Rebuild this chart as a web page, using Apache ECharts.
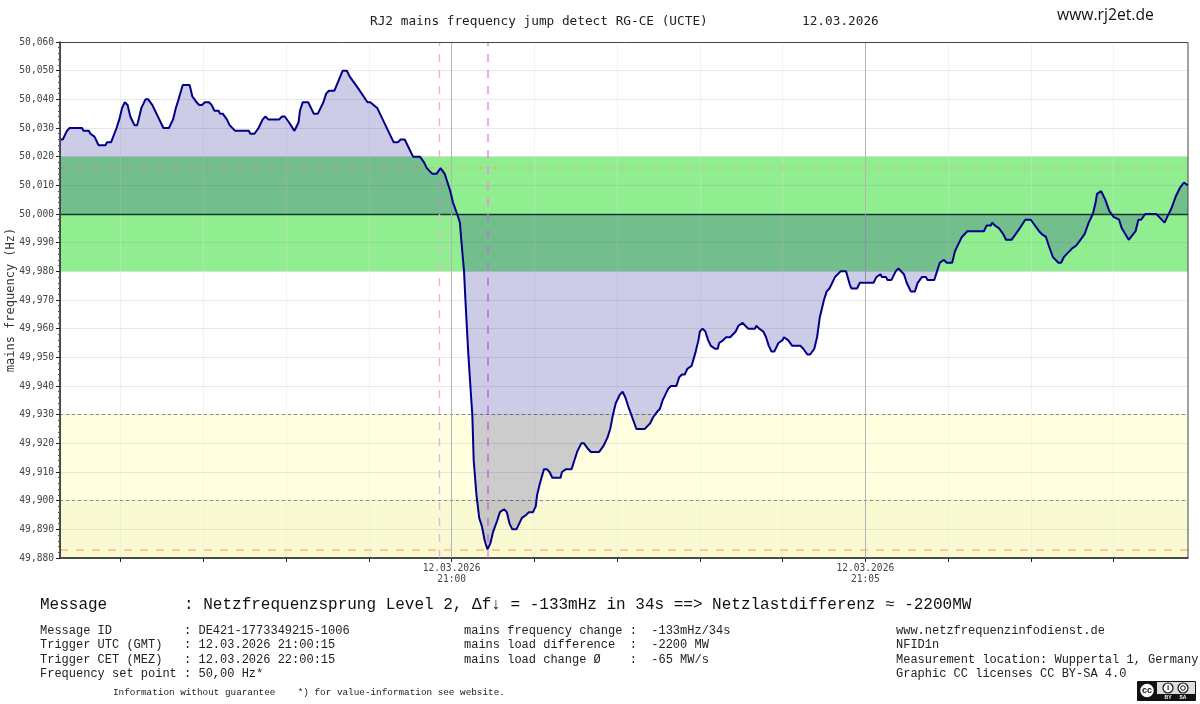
<!DOCTYPE html>
<html>
<head>
<meta charset="utf-8">
<title>RJ2 mains frequency jump detect</title>
<style>
  html, body { margin: 0; padding: 0; background: #fff; }
  #chart { width: 1200px; height: 704px; }
</style>
<script src="https://cdn.jsdelivr.net/npm/echarts@6/dist/echarts.min.js"></script>
</head>
<body>
<div id="chart"></div>
<script>
// seconds relative to 21:00:00 UTC
var seconds = [
  -284,-282,-279,-277,-268,-267,-263,-262,-259,-256,-251,-250,-247,-243,-241,-239,-237,-235,-233,-231,
  -230,-228,-227,-225,-222,-220,-217,-209,-205,-202,-200,-198,-195,-190,-188,-185,-183,-181,-179,-176,
  -174,-172,-169,-168,-166,-163,-161,-157,-147,-146,-143,-140,-137,-135,-133,-125,-123,-121,-118,-114,
  -113,-111,-110,-108,-104,-100,-97,-93,-91,-89,-85,-79,-76,-74,-71,-68,-61,-59,-54,-44,
  -42,-39,-37,-34,-28,-23,-20,-18,-14,-11,-8,-5,-1,1,4,6,7,9,10,12,
  14,15,16,18,20,22,24,26,28,30,33,35,38,40,42,44,47,51,54,56,
  59,61,62,64,67,69,71,73,79,80,83,87,89,91,94,96,99,101,107,110,
  113,115,117,119,122,124,126,128,131,134,140,142,144,146,149,151,153,157,159,163,
  165,167,169,171,174,177,179,180,182,184,186,188,191,193,194,197,199,202,206,208,
  211,212,215,220,221,223,226,228,230,232,234,237,240,241,244,247,253,255,258,260,
  263,265,267,270,272,274,278,282,286,289,290,294,296,306,308,311,312,315,316,319,
  322,324,328,330,333,336,338,341,344,345,350,352,354,357,359,363,365,370,374,386,
  388,391,392,394,397,400,402,406,409,412,416,420,423,426,428,431,433,436,438,440,
  442,444,446,450,453,454,456,459,462,465,467,468,471,474,477,480,484,486,491,492,
  496,498,500,503,511,513,517,519,522,525,528,531,532,534
];
// deviation from 50,000 Hz in mHz
var deviation = [
  26,26,29,30,30,29,29,28,27,24,24,25,25,30,33,37,39,38,34,32,
  31,31,33,37,40,40,38,30,30,33,37,40,45,45,41,39,38,38,39,39,
  38,36,36,35,35,33,31,29,29,28,28,30,33,34,33,33,34,34,32,29,
  30,32,36,39,39,35,35,39,42,43,43,50,50,48,46,44,39,39,37,27,
  25,25,26,26,20,20,18,16,14,14,16,14,8,4,0,-3,-9,-20,-30,-48,
  -63,-70,-86,-98,-106,-109,-114,-117,-115,-111,-107,-104,-103,-104,-108,-110,-110,-106,-105,-104,
  -104,-102,-98,-94,-89,-89,-90,-92,-92,-90,-89,-89,-86,-83,-80,-80,-82,-83,-83,-81,
  -78,-75,-70,-66,-63,-62,-64,-67,-71,-75,-75,-74,-73,-71,-69,-68,-65,-61,-60,-60,
  -57,-56,-56,-54,-53,-48,-44,-41,-40,-41,-44,-46,-47,-47,-45,-44,-43,-43,-41,-39,
  -38,-38,-40,-40,-39,-40,-41,-43,-46,-48,-48,-45,-44,-43,-44,-46,-46,-47,-49,-49,
  -47,-43,-36,-30,-27,-26,-22,-20,-20,-25,-26,-26,-24,-24,-22,-21,-22,-22,-23,-23,
  -20,-19,-21,-24,-27,-27,-24,-22,-22,-23,-23,-20,-17,-16,-17,-17,-13,-8,-6,-6,
  -4,-4,-3,-4,-5,-7,-9,-9,-7,-5,-2,-2,-4,-6,-7,-8,-11,-15,-16,-17,
  -17,-15,-14,-12,-11,-11,-9,-7,-3,0,4,7,8,5,1,-1,-2,-5,-9,-9,
  -6,-2,-2,0,0,-1,-3,-1,2,6,9,11,11,10
];
var setPoint = 50.0;
var xMinuteTicks = [-240,-180,-120,-60,0,60,120,180,240,300,360,420,480];
var xLabelTicks = [0, 300];
var xLabels = { 0: '12.03.2026\n21:00', 300: '12.03.2026\n21:05' };
var xSolidLines = [0, 300];
var xPinkStart = -9;
var xPinkTrigger = 26;
var greenBand = [49.98, 50.02];
var yellowBand = [49.88, 49.93];
var yellowLowBand = [49.88, 49.90];
var dottedLevels = [49.93, 49.90];
var upperDashed = 50.016;
var lowerDashed = 49.883;

var messageLines = [
  ['Message ID          : DE421-1773349215-1006', 631],
  ['Trigger UTC (GMT)   : 12.03.2026 21:00:15', 645],
  ['Trigger CET (MEZ)   : 12.03.2026 22:00:15', 660],
  ['Frequency set point : 50,00 Hz*', 674]
];
var changeLines = [
  ['mains frequency change :  -133mHz/34s', 631],
  ['mains load difference  :  -2200 MW', 645],
  ['mains load change \u00D8    :  -65 MW/s', 660]
];
var sourceLines = [
  ['www.netzfrequenzinfodienst.de', 631],
  ['NFID1n', 645],
  ['Measurement location: Wuppertal 1, Germany', 660],
  ['Graphic CC licenses CC BY-SA 4.0', 674]
];

var curve = seconds.map(function (s, i) {
  return [s, +(setPoint + deviation[i] / 1000).toFixed(3)];
});

var MONO = '"DejaVu Sans Mono", monospace';
var FOOT = '"Liberation Mono", monospace';

function textEl(x, y, text, font, fill, align) {
  return {
    type: 'text', x: x, y: y, silent: true, z: 25,
    style: { text: text, font: font, fill: fill || '#222', textAlign: align || 'left', textVerticalAlign: 'middle' }
  };
}
function block(lines, x) {
  return lines.map(function (l) { return textEl(x, l[1], l[0], '12px ' + FOOT); });
}

var graphics = [
  textEl(370, 22, 'RJ2 mains frequency jump detect RG-CE (UCTE)', '12.75px ' + MONO, '#222'),
  textEl(802, 22, '12.03.2026', '12.75px ' + MONO, '#222'),
  textEl(1057, 16, 'www.rj2et.de', '15.7px "Open Sans", sans-serif', '#111'),
  textEl(40, 605, 'Message        : Netzfrequenzsprung Level 2, \u0394f\u2193 = -133mHz in 34s ==> Netzlastdifferenz \u2248 -2200MW', '16px ' + FOOT, '#111'),
  textEl(113, 693, 'Information without guarantee    *) for value-information see website.', '9.33px ' + FOOT, '#222'),
  // plot frame
  { type: 'rect', silent: true, z: 10, shape: { x: 60.5, y: 42.5, width: 1127.5, height: 515.5 },
    style: { fill: 'none', stroke: '#444', lineWidth: 1 } },
  // CC BY-SA badge
  { type: 'rect', silent: true, z: 20, shape: { x: 1137, y: 681, width: 59, height: 20, r: 1 }, style: { fill: '#111' } },
  { type: 'rect', silent: true, z: 20, shape: { x: 1157, y: 682, width: 38, height: 12 }, style: { fill: '#ddd' } },
  { type: 'circle', silent: true, z: 21, shape: { cx: 1147, cy: 690.5, r: 7.5 }, style: { fill: '#fff', stroke: '#111', lineWidth: 1.5 } },
  textEl(1147, 690.5, 'cc', 'bold 9px "Liberation Sans", sans-serif', '#111', 'center'),
  { type: 'circle', silent: true, z: 21, shape: { cx: 1168, cy: 688, r: 5 }, style: { fill: '#fff', stroke: '#111', lineWidth: 1.2 } },
  textEl(1168, 688, 'i', 'bold 8px "Liberation Sans", sans-serif', '#111', 'center'),
  { type: 'circle', silent: true, z: 21, shape: { cx: 1183, cy: 688, r: 5 }, style: { fill: '#fff', stroke: '#111', lineWidth: 1.2 } },
  { type: 'circle', silent: true, z: 22, shape: { cx: 1183, cy: 688, r: 2.3 }, style: { fill: 'none', stroke: '#111', lineWidth: 1 } },
  textEl(1168, 697.5, 'BY', 'bold 5px "Liberation Sans", sans-serif', '#fff', 'center'),
  textEl(1183, 697.5, 'SA', 'bold 5px "Liberation Sans", sans-serif', '#fff', 'center')
].concat(block(messageLines, 40), block(changeLines, 464), block(sourceLines, 896));

var markLines = [{ yAxis: setPoint, lineStyle: { color: '#14401f', width: 1.3, type: 'solid' } }];
dottedLevels.forEach(function (v) {
  markLines.push({ yAxis: v, lineStyle: { color: '#888', width: 1, type: [3, 3] } });
});
markLines.push({ yAxis: upperDashed, lineStyle: { color: 'rgba(255,150,80,0.45)', width: 1.5, type: [8, 8] } });
markLines.push({ yAxis: lowerDashed, lineStyle: { color: 'rgba(255,150,80,0.6)', width: 1.5, type: [8, 8] } });
xSolidLines.forEach(function (v) {
  markLines.push({ xAxis: v, lineStyle: { color: '#b4b4b4', width: 1, type: 'solid' } });
});
markLines.push({ xAxis: xPinkStart, lineStyle: { color: '#eeb0dc', width: 1.4, type: [8, 8] } });
markLines.push({ xAxis: xPinkTrigger, lineStyle: { color: '#f484f4', width: 1.5, type: [8, 8] } });

var myChart = echarts.init(document.getElementById('chart'), null, { renderer: 'canvas' });
myChart.setOption({
  animation: false,
  backgroundColor: '#fff',
  grid: { left: 60, top: 42, right: 12, bottom: 146, containLabel: false, outerBoundsMode: 'none' },
  xAxis: {
    type: 'value', min: -284, max: 534, z: 1,
    axisLine: { onZero: false, lineStyle: { color: '#222', width: 1.5 } },
    axisTick: { customValues: xMinuteTicks, length: 4, lineStyle: { color: '#222' } },
    axisLabel: {
      customValues: xLabelTicks, margin: 5, fontFamily: MONO, fontSize: 9.6, color: '#444', lineHeight: 11,
      formatter: function (v) { return xLabels[v] || ''; }
    },
    splitLine: { show: true, lineStyle: { color: 'rgba(225,225,225,0.4)', width: 1 } }
  },
  yAxis: {
    type: 'value', min: 49.88, max: 50.06, interval: 0.01, z: 1,
    name: 'mains frequency (Hz)', nameLocation: 'middle', nameGap: 43, nameRotate: 90, nameMoveOverlap: false,
    nameTextStyle: { fontFamily: MONO, fontSize: 12, color: '#333' },
    axisLine: { show: true, onZero: false, lineStyle: { color: '#222', width: 1.5 } },
    axisTick: { show: true, length: 4, lineStyle: { color: '#222' } },
    minorTick: { show: true, splitNumber: 5, length: 2, lineStyle: { color: '#555' } },
    axisLabel: {
      margin: 6, fontFamily: MONO, fontSize: 9.6, color: '#444',
      formatter: function (v) { return v.toFixed(3).replace('.', ','); }
    },
    splitLine: { show: true, lineStyle: { color: 'rgba(120,120,120,0.17)', width: 1 } }
  },
  series: [
    {
      type: 'line', z: 0, data: [], silent: true,
      markArea: {
        silent: true, z: 0,
        data: [
          [{ yAxis: greenBand[0], itemStyle: { color: '#90ee90' } }, { yAxis: greenBand[1] }],
          [{ yAxis: yellowBand[0], itemStyle: { color: '#ffffe0' } }, { yAxis: yellowBand[1] }],
          [{ yAxis: yellowLowBand[0], itemStyle: { color: '#fafad2' } }, { yAxis: yellowLowBand[1] }]
        ]
      }
    },
    {
      type: 'line', z: 2, data: [], silent: true,
      markLine: { silent: true, z: 2, symbol: 'none', precision: 3, label: { show: false }, data: markLines }
    },
    {
      name: 'mains frequency', type: 'line', z: 3, data: curve, showSymbol: false, symbol: 'none', silent: true,
      lineStyle: { color: '#00008b', width: 2 },
      areaStyle: { origin: setPoint, color: 'rgba(0,0,128,0.2)', opacity: 1 }
    }
  ],
  graphic: graphics
});
</script>
</body>
</html>
